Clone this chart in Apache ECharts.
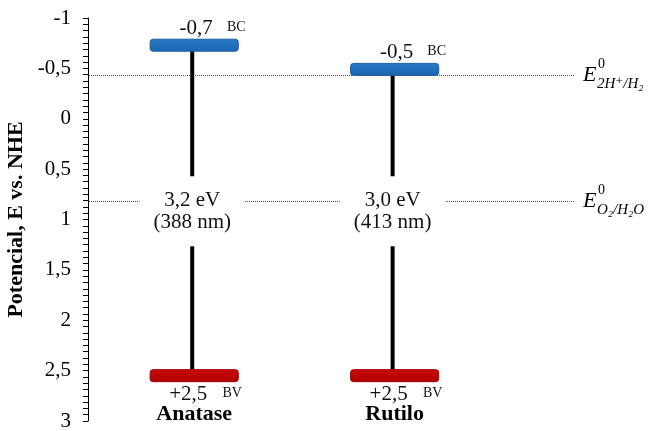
<!DOCTYPE html>
<html>
<head>
<meta charset="utf-8">
<script src="https://cdn.jsdelivr.net/npm/echarts@6.0.0/dist/echarts.min.js"></script>
<style>html,body{margin:0;padding:0;background:#fff}#chart{width:657px;height:431px}</style>
</head>
<body>
<div id="chart"></div>
<script>
// ---- data ----
const categories = ['Anatase', 'Rutilo'];
const conductionBand = [-0.73, -0.49];   // eV vs NHE (BC)
const valenceBand = [2.55, 2.55];        // eV vs NHE (BV)
const bandGapEv = [3.2, 3.0];
const bandGapNm = [388, 413];
const redoxPotentials = [-0.43, 0.82];   // E0 2H+/H2, E0 O2/H2O
const redoxSubscripts = ['2H\u207A/H\u2082', 'O\u2082/H\u2082O'];

// ---- styles ----
const SERIF = '"Liberation Serif", "Times New Roman", "DejaVu Serif", serif';
const X_MIN = -0.53, X_MAX = 1.9;
const BAND_H = 12;
const BAND_HALF = 0.22;
const fmt = v => v.toFixed(1).replace('.', ',');

const chart = echarts.init(document.getElementById('chart'), null, {renderer: 'canvas'});

const blueFill = new echarts.graphic.LinearGradient(0, 0, 0, 1, [
  {offset: 0, color: '#2A7BC8'}, {offset: 1, color: '#1A64AE'}]);
const redFill = new echarts.graphic.LinearGradient(0, 0, 0, 1, [
  {offset: 0, color: '#C80A0A'}, {offset: 1, color: '#B00000'}]);

const option = {
  animation: false,
  backgroundColor: '#fff',
  grid: {left: 88, right: 82, top: 18, bottom: 10, containLabel: false, outerBoundsMode: 'none'},
  xAxis: {
    type: 'value', min: X_MIN, max: X_MAX, position: 'bottom', offset: -18,
    axisLine: {show: false, onZero: false}, axisTick: {show: false}, splitLine: {show: false},
    axisLabel: {
      customValues: categories.map((c, i) => i),
      formatter: v => categories[Math.round(v)],
      fontFamily: SERIF, fontWeight: 'bold', fontSize: 22, color: '#000', margin: 0
    }
  },
  yAxis: {
    type: 'value', inverse: true, min: -1, max: 3, interval: 0.5, position: 'left',
    name: 'Potencial, E vs. NHE', nameLocation: 'middle', nameGap: 46,
    nameTextStyle: {fontFamily: SERIF, fontWeight: 'bold', fontSize: 22, color: '#000'},
    axisLine: {show: true, onZero: false, lineStyle: {color: '#000', width: 1}},
    axisTick: {show: true, length: 5, lineStyle: {color: '#000'}},
    minorTick: {show: true, splitNumber: 8, length: 5, lineStyle: {color: '#000'}},
    splitLine: {show: false},
    axisLabel: {formatter: v => String(v).replace('.', ','), fontFamily: SERIF, fontSize: 21, color: '#000', margin: 17}
  },
  series: [
    {
      type: 'custom',
      z: 1,
      data: redoxPotentials.map((e, i) => [i, e]),
      renderItem: (params, api) => {
        const i = api.value(0), e = api.value(1);
        const p1 = api.coord([X_MIN, e]), p2 = api.coord([X_MAX, e]);
        const y = Math.round(p1[1]) + 0.5;
        const xr = p2[0];
        return {
          type: 'group',
          children: [
            {type: 'line', shape: {x1: p1[0] + 1, y1: y, x2: xr, y2: y},
             style: {stroke: '#555', lineWidth: 1, lineDash: [1, 1]}},
            {type: 'text', x: xr + 8, y: y,
             style: {text: 'E', fontFamily: SERIF, fontStyle: 'italic', fontSize: 22, fill: '#000', align: 'left', verticalAlign: 'middle'}},
            {type: 'text', x: xr + 23, y: y - 11,
             style: {text: '0', fontFamily: SERIF, fontSize: 14, fill: '#000', align: 'left', verticalAlign: 'middle'}},
            {type: 'text', x: xr + 22, y: y + 9,
             style: {text: redoxSubscripts[i], fontFamily: SERIF, fontStyle: 'italic', fontSize: 15, fill: '#000', align: 'left', verticalAlign: 'middle'}}
          ]
        };
      }
    },
    {
      type: 'custom',
      z: 2,
      data: categories.map((c, i) => [i, conductionBand[i], valenceBand[i], bandGapEv[i], bandGapNm[i]]),
      renderItem: (params, api) => {
        const i = api.value(0), cb = api.value(1), vb = api.value(2);
        const gap = api.value(3), nm = api.value(4);
        const top = api.coord([i, cb]);
        const bot = api.coord([i, vb]);
        const left = api.coord([i - BAND_HALF, cb])[0];
        const right = api.coord([i + BAND_HALF, cb])[0];
        const yO2 = api.coord([i, redoxPotentials[1]])[1];
        return {
          type: 'group',
          children: [
            {type: 'line', shape: {x1: top[0] - 2, y1: top[1], x2: bot[0] - 2, y2: bot[1]},
             style: {stroke: '#000', lineWidth: 4}},
            {type: 'text', x: top[0] - 2, y: yO2 + 10,
             style: {text: fmt(gap) + ' eV\n(' + nm + ' nm)', fontFamily: SERIF, fontSize: 21, fill: '#111',
                     align: 'center', verticalAlign: 'middle', lineHeight: 22, backgroundColor: '#fff', padding: [13, 14]}},
            {type: 'rect', shape: {x: left, y: top[1] - BAND_H / 2, width: right - left, height: BAND_H, r: 3},
             style: {fill: blueFill, stroke: '#1A5FA3', lineWidth: 1}},
            {type: 'rect', shape: {x: left, y: bot[1] - BAND_H / 2, width: right - left, height: BAND_H, r: 3},
             style: {fill: redFill, stroke: '#A00000', lineWidth: 1}},
            {type: 'text', x: top[0] + 2, y: top[1] - BAND_H / 2 - 11,
             style: {text: fmt(cb), fontFamily: SERIF, fontSize: 21, fill: '#111', align: 'center', verticalAlign: 'middle'}},
            {type: 'text', x: top[0] + 42, y: top[1] - BAND_H / 2 - 12,
             style: {text: 'BC', fontFamily: SERIF, fontSize: 14, fill: '#111', align: 'center', verticalAlign: 'middle'}},
            {type: 'text', x: bot[0] - 6, y: bot[1] + BAND_H / 2 + 13,
             style: {text: '+' + fmt(vb), fontFamily: SERIF, fontSize: 21, fill: '#111', align: 'center', verticalAlign: 'middle'}},
            {type: 'text', x: bot[0] + 38, y: bot[1] + BAND_H / 2 + 12,
             style: {text: 'BV', fontFamily: SERIF, fontSize: 14, fill: '#111', align: 'center', verticalAlign: 'middle'}}
          ]
        };
      }
    }
  ]
};
chart.setOption(option);
</script>
</body>
</html>
